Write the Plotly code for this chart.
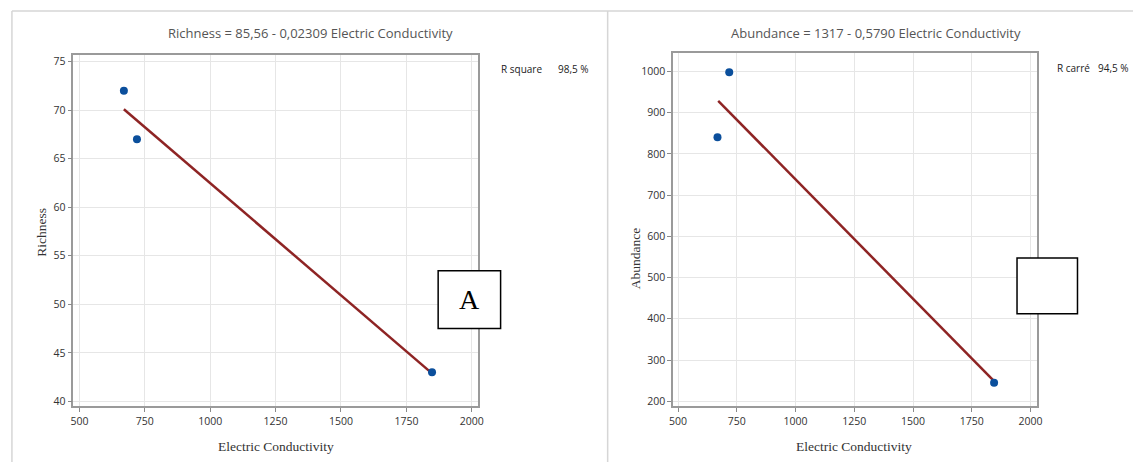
import plotly.graph_objects as go

W, H = 1139, 464

# Data
ec_rich = [670, 720, 1848]
richness = [72, 67, 43]
ec_abund = [668, 718, 1845]
abundance = [840, 998, 245]

rich_b0, rich_b1 = 85.56, -0.02309
ab_b0, ab_b1 = 1317, -0.5790

x_ticks = [500, 750, 1000, 1250, 1500, 1750, 2000]
rich_ticks = [40, 45, 50, 55, 60, 65, 70, 75]
ab_ticks = [200, 300, 400, 500, 600, 700, 800, 900, 1000]

def px(x):
    return x / W

def py(y):
    return 1 - y / H

fit_x_r = [min(ec_rich), max(ec_rich)]
fit_y_r = [rich_b0 + rich_b1 * v for v in fit_x_r]
fit_x_a = [min(ec_abund) + 3, max(ec_abund)]
fit_y_a = [ab_b0 + ab_b1 * v for v in fit_x_a]

MARK = "#0b4f9c"
LINE = "#8e2424"

fig = go.Figure()
fig.add_trace(go.Scatter(x=fit_x_r, y=fit_y_r, mode="lines", line=dict(color=LINE, width=2.5),
                         xaxis="x", yaxis="y", showlegend=False))
fig.add_trace(go.Scatter(x=ec_rich, y=richness, mode="markers", marker=dict(color=MARK, size=8),
                         xaxis="x", yaxis="y", showlegend=False))
fig.add_trace(go.Scatter(x=fit_x_a, y=fit_y_a, mode="lines", line=dict(color=LINE, width=2.5),
                         xaxis="x2", yaxis="y2", showlegend=False))
fig.add_trace(go.Scatter(x=ec_abund, y=abundance, mode="markers", marker=dict(color=MARK, size=8),
                         xaxis="x2", yaxis="y2", showlegend=False))

tickfont = dict(family="Open Sans, Noto Sans, sans-serif", size=10.5, color="#333")
common = dict(showline=True, mirror=True, linecolor="#9a9a9a", linewidth=1.5,
              showgrid=True, gridcolor="#e6e6e6", gridwidth=1, zeroline=False,
              ticks="outside", ticklen=4, tickcolor="#8a8a8a", tickfont=tickfont)

fig.update_layout(
    width=W, height=H, margin=dict(l=0, r=0, t=0, b=0),
    paper_bgcolor="white", plot_bgcolor="white",
    xaxis=dict(domain=[px(70), px(478)], range=[477, 2023], tickvals=x_ticks, anchor="y", **common),
    yaxis=dict(domain=[py(408), py(55)], range=[39.5, 75.7], tickvals=rich_ticks, anchor="x", **common),
    xaxis2=dict(domain=[px(675), px(1042)], range=[479, 2027], tickvals=x_ticks, anchor="y2", **common),
    yaxis2=dict(domain=[py(408), py(53)], range=[188, 1045], tickvals=ab_ticks, anchor="x2", **common),
)

shapes = [
    dict(type="line", xref="paper", yref="paper", x0=px(8), x1=px(1139), y0=py(11), y1=py(11),
         line=dict(color="#d6d6d6", width=1.5)),
    dict(type="line", xref="paper", yref="paper", x0=px(8), x1=px(8), y0=py(11), y1=0,
         line=dict(color="#d6d6d6", width=1.5)),
    dict(type="line", xref="paper", yref="paper", x0=px(609), x1=px(609), y0=py(11), y1=0,
         line=dict(color="#d6d6d6", width=1.5)),
    dict(type="rect", xref="paper", yref="paper", x0=px(438), x1=px(501), y0=py(330), y1=py(272),
         line=dict(color="black", width=1.5), fillcolor="white"),
    dict(type="rect", xref="paper", yref="paper", x0=px(1022), x1=px(1083), y0=py(315), y1=py(259),
         line=dict(color="black", width=1.5), fillcolor="white"),
]
fig.update_layout(shapes=shapes)

titlefont = dict(family="Open Sans, Noto Sans, sans-serif", size=13, color="#555")
serif = dict(family="Liberation Serif, Times New Roman, serif", size=13.5, color="#333")
small = dict(family="Open Sans, Noto Sans, sans-serif", size=10, color="#222")

ann = [
    dict(text="Richness = 85,56 - 0,02309 Electric Conductivity", x=px(309), y=py(33), font=titlefont),
    dict(text="Abundance = 1317 - 0,5790 Electric Conductivity", x=px(880), y=py(33), font=titlefont),
    dict(text="Electric Conductivity", x=px(274), y=py(448), font=serif),
    dict(text="Electric Conductivity", x=px(858), y=py(448), font=serif),
    dict(text="Richness", x=px(38), y=py(233), font=serif, textangle=-90),
    dict(text="Abundance", x=px(637), y=py(260), font=serif, textangle=-90),
    dict(text="R square", x=px(499), y=py(69), font=small, xanchor="left"),
    dict(text="98,5 %", x=px(557), y=py(69), font=small, xanchor="left"),
    dict(text="R carré", x=px(1060), y=py(68), font=small, xanchor="left"),
    dict(text="94,5 %", x=px(1102), y=py(68), font=small, xanchor="left"),
    dict(text="A", x=px(469.5), y=py(301), font=dict(family="Liberation Serif, Times New Roman, serif", size=28, color="black")),
]
for a in ann:
    a.setdefault("xanchor", "center")
    fig.add_annotation(xref="paper", yref="paper", showarrow=False, yanchor="middle", **a)

fig.write_html("out.html")
